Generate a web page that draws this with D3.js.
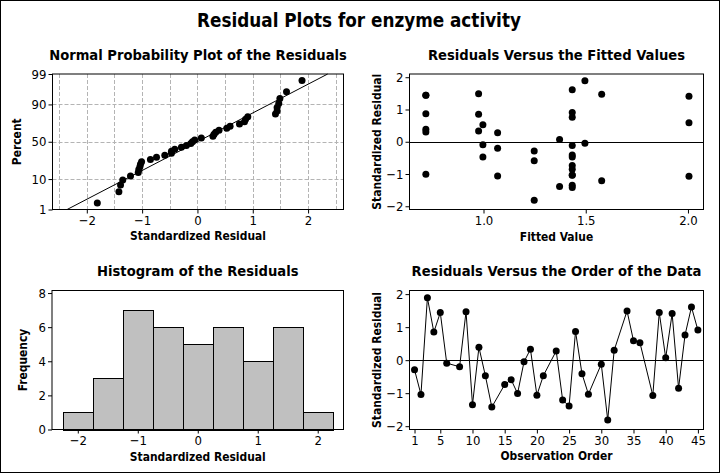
<!DOCTYPE html>
<html><head><meta charset="utf-8">
<script src="https://cdn.jsdelivr.net/npm/d3@7"></script>
<style>
html,body{margin:0;padding:0;background:#fff;}
svg{display:block;}
text{font-family:"DejaVu Sans Condensed","DejaVu Sans",sans-serif;fill:#000;}
</style></head>
<body><svg id="c" width="720" height="473"></svg>
<script>
// ---------- DATA ----------
const observationOrder = [1,2,3,4,5,6,8,9,10,11,12,13,15,16,17,18,19,20,21,23,24,25,26,27,28,30,31,32,34,35,36,38,39,40,41,42,43,44,45];
const standardizedResiduals = [-0.29,-1.04,1.89,0.85,1.44,-0.09,-0.20,1.47,-1.35,0.39,-0.47,-1.42,-0.74,-0.59,-1.01,-0.05,0.33,-1.06,-0.47,0.28,-1.21,-1.39,0.87,-0.41,-1.03,-0.12,-1.81,0.30,1.49,0.59,0.53,-1.07,1.44,0.07,1.41,-0.85,0.76,1.61,0.91];
const fittedValues = [1.248,1.434,1.496,0.976,0.718,0.997,1.069,1.578,1.434,0.718,0.997,1.434,1.434,1.248,0.718,1.496,0.976,1.069,1.434,1.069,1.578,1.372,0.718,1.434,1.434,1.434,1.248,0.718,0.976,2.005,0.997,2.005,0.718,1.372,2.005,1.434,1.434,1.434,1.434];
const percentTicks = [1,10,50,90,99];
const percentGrid = [10,50,90];
const residualTicks = [-2,-1,0,1,2];
const residualGrid = [-2.5,-2,-1.5,-1,-0.5,0,0.5,1,1.5,2,2.5];
const fittedTicks = [1.0,1.5,2.0];
const frequencyTicks = [0,2,4,6,8];
const histogramEdges = [-2.25,-1.75,-1.25,-0.75,-0.25,0.25,0.75,1.25,1.75,2.25];
const orderTicks = [1,5,10,15,20,25,30,35,40,45];

// ---------- helpers ----------
function qnorm(p){
  const a=[-3.969683028665376e+01,2.209460984245205e+02,-2.759285104469687e+02,1.383577518672690e+02,-3.066479806614716e+01,2.506628277459239e+00];
  const b=[-5.447609879822406e+01,1.615858368580409e+02,-1.556989798598866e+02,6.680131188771972e+01,-1.328068155288572e+01];
  const c=[-7.784894002430293e-03,-3.223964580411365e-01,-2.400758277161838e+00,-2.549671397023408e+00,4.374664141464968e+00,2.938163982698783e+00];
  const d=[7.784695709041462e-03,3.224671290700398e-01,2.445134137142996e+00,3.754408661907416e+00];
  const pl=0.02425;
  if(p<pl){const q=Math.sqrt(-2*Math.log(p));return (((((c[0]*q+c[1])*q+c[2])*q+c[3])*q+c[4])*q+c[5])/((((d[0]*q+d[1])*q+d[2])*q+d[3])*q+1);}
  if(p>1-pl){const q=Math.sqrt(-2*Math.log(1-p));return -(((((c[0]*q+c[1])*q+c[2])*q+c[3])*q+c[4])*q+c[5])/((((d[0]*q+d[1])*q+d[2])*q+d[3])*q+1);}
  const q=p-0.5,r=q*q;return (((((a[0]*r+a[1])*r+a[2])*r+a[3])*r+a[4])*r+a[5])*q/(((((b[0]*r+b[1])*r+b[2])*r+b[3])*r+b[4])*r+1);
}

const svg = d3.select("#c");
const W=720,H=473;
svg.append("rect").attr("x",0.5).attr("y",0.5).attr("width",W-1).attr("height",H-1)
  .attr("fill","#fff").attr("stroke","#000");

const TICK_FONT = 13, AXT_FONT = 13, PT_FONT = 14.5, MAIN_FONT = 18;
const R = 3.5;

svg.append("text").attr("class","main").attr("x",359).attr("y",27).attr("text-anchor","middle")
  .style("font-weight","bold").style("font-size",MAIN_FONT+"px").text("Residual Plots for enzyme activity");

function frame(g,f){
  g.append("rect").attr("x",f.x0).attr("y",f.y0).attr("width",f.x1-f.x0).attr("height",f.y1-f.y0)
   .attr("fill","none").attr("stroke","#000").attr("stroke-width",1);
}
function styleAxis(ax){
  ax.select(".domain").remove();
  ax.selectAll(".tick line").attr("stroke","#000");
  ax.selectAll(".tick text").style("font-size",TICK_FONT+"px").attr("fill","#000");
}
function titles(g,f,title,xt,yt,ytx,xty,ty){
  const cx=(f.x0+f.x1)/2, cy=(f.y0+f.y1)/2;
  g.append("text").attr("class","ptitle").attr("x",cx).attr("y",ty).attr("text-anchor","middle")
    .style("font-weight","bold").style("font-size",PT_FONT+"px").text(title);
  g.append("text").attr("class","axt").attr("x",cx).attr("y",xty).attr("text-anchor","middle")
    .style("font-weight","bold").style("font-size",AXT_FONT+"px").text(xt);
  g.append("text").attr("class","axt").attr("transform",`translate(${ytx},${cy}) rotate(-90)`)
    .attr("text-anchor","middle").attr("dy","0.36em")
    .style("font-weight","bold").style("font-size",AXT_FONT+"px").text(yt);
}

const n = standardizedResiduals.length;
const pts = standardizedResiduals.map((r,i)=>({r, f:fittedValues[i], o:observationOrder[i]}));

// ---------- Panel 1: Normal probability ----------
{
  const f={x0:52.5,x1:343.5,y0:74,y1:209.5};
  const g=svg.append("g");
  const x=d3.scaleLinear().domain([-2.62,2.64]).range([f.x0,f.x1]);
  const yz=d3.scaleLinear().domain([qnorm(0.01),qnorm(0.99)]).range([f.y1,f.y0]);
  const gc=g.append("g").attr("stroke","#b4b4b4").attr("stroke-dasharray","4,2").attr("stroke-width",1);
  gc.selectAll("line.v").data(residualGrid).join("line").attr("class","v")
    .attr("x1",d=>Math.round(x(d))+0.5).attr("x2",d=>Math.round(x(d))+0.5).attr("y1",f.y0).attr("y2",f.y1);
  gc.selectAll("line.h").data(percentGrid).join("line").attr("class","h")
    .attr("x1",f.x0).attr("x2",f.x1).attr("y1",d=>Math.round(yz(qnorm(d/100)))+0.5).attr("y2",d=>Math.round(yz(qnorm(d/100)))+0.5);
  const mu=d3.mean(standardizedResiduals), sd=d3.deviation(standardizedResiduals);
  const zr=[qnorm(0.01),qnorm(0.99)];
  g.append("line").attr("x1",x(mu+sd*zr[0])).attr("y1",yz(zr[0])).attr("x2",x(mu+sd*zr[1])).attr("y2",yz(zr[1]))
    .attr("stroke","#000").attr("stroke-width",1);
  const sorted=standardizedResiduals.slice().sort(d3.ascending);
  g.selectAll("circle").data(sorted).join("circle")
    .attr("cx",d=>x(d)).attr("cy",(d,i)=>yz(qnorm((i+1-0.3)/(n+0.4)))).attr("r",R).attr("fill","#000");
  frame(g,f);
  const ax=g.append("g").attr("transform",`translate(0,${f.y1})`).call(d3.axisBottom(x).tickValues(residualTicks).tickSize(4).tickPadding(2).tickFormat(d3.format("d")));
  styleAxis(ax);
  const ay=g.append("g").attr("transform",`translate(${f.x0},0)`).call(d3.axisLeft(yz).tickValues(percentTicks.map(p=>qnorm(p/100))).tickSize(4).tickPadding(2).tickFormat((d,i)=>percentTicks[i]));
  styleAxis(ay);
  titles(g,f,"Normal Probability Plot of the Residuals","Standardized Residual","Percent",17,240,59.5);
}

// ---------- Panel 2: vs fitted ----------
{
  const f={x0:409.5,x1:703.5,y0:74,y1:209.5};
  const g=svg.append("g");
  const x=d3.scaleLinear().domain([0.638,2.076]).range([f.x0,f.x1]);
  const y=d3.scaleLinear().domain([-2.1,2.1]).range([f.y1,f.y0]);
  g.append("line").attr("x1",f.x0).attr("x2",f.x1).attr("y1",Math.round(y(0))+0.5).attr("y2",Math.round(y(0))+0.5).attr("stroke","#000");
  g.selectAll("circle").data(pts).join("circle").attr("cx",d=>x(d.f)).attr("cy",d=>y(d.r)).attr("r",R).attr("fill","#000");
  frame(g,f);
  const ax=g.append("g").attr("transform",`translate(0,${f.y1})`).call(d3.axisBottom(x).tickValues(fittedTicks).tickSize(4).tickPadding(2).tickFormat(d3.format(".1f")));
  styleAxis(ax);
  const ay=g.append("g").attr("transform",`translate(${f.x0},0)`).call(d3.axisLeft(y).tickValues(residualTicks).tickSize(4).tickPadding(2).tickFormat(d3.format("d")));
  styleAxis(ay);
  titles(g,f,"Residuals Versus the Fitted Values","Fitted Value","Standardized Residual",377,241,59.5);
}

// ---------- Panel 3: histogram ----------
{
  const f={x0:52,x1:343.5,y0:290.5,y1:429.5};
  const g=svg.append("g");
  const x=d3.scaleLinear().domain([-2.43,2.43]).range([f.x0,f.x1]);
  const y=d3.scaleLinear().domain([0,8.15]).range([f.y1,f.y0]);
  const bins=d3.bin().domain([histogramEdges[0],histogramEdges[histogramEdges.length-1]]).thresholds(histogramEdges.slice(1,-1))(standardizedResiduals);
  g.selectAll("rect.bar").data(bins).join("rect").attr("class","bar")
    .attr("x",d=>Math.round(x(d.x0))+0.5).attr("width",d=>Math.round(x(d.x1))-Math.round(x(d.x0)))
    .attr("y",d=>Math.round(y(d.length))+0.5).attr("height",d=>Math.round(y(0))-Math.round(y(d.length)))
    .attr("fill","#c0c0c0").attr("stroke","#000").attr("stroke-width",1);
  frame(g,f);
  const ax=g.append("g").attr("transform",`translate(0,${f.y1})`).call(d3.axisBottom(x).tickValues(residualTicks).tickSize(4).tickPadding(2).tickFormat(d3.format("d")));
  styleAxis(ax);
  const ay=g.append("g").attr("transform",`translate(${f.x0},0)`).call(d3.axisLeft(y).tickValues(frequencyTicks).tickSize(4).tickPadding(2));
  styleAxis(ay);
  titles(g,f,"Histogram of the Residuals","Standardized Residual","Frequency",22.5,461,276);
}

// ---------- Panel 4: vs order ----------
{
  const f={x0:409.5,x1:703.5,y0:290.5,y1:429.5};
  const g=svg.append("g");
  const x=d3.scaleLinear().domain([0.22,45.87]).range([f.x0,f.x1]);
  const y=d3.scaleLinear().domain([-2.1,2.11]).range([f.y1,f.y0]);
  g.append("line").attr("x1",f.x0).attr("x2",f.x1).attr("y1",Math.round(y(0))+0.5).attr("y2",Math.round(y(0))+0.5).attr("stroke","#000");
  g.append("path").datum(pts).attr("d",d3.line().x(d=>x(d.o)).y(d=>y(d.r))).attr("fill","none").attr("stroke","#000").attr("stroke-width",1);
  g.selectAll("circle").data(pts).join("circle").attr("cx",d=>x(d.o)).attr("cy",d=>y(d.r)).attr("r",R).attr("fill","#000");
  frame(g,f);
  const ax=g.append("g").attr("transform",`translate(0,${f.y1})`).call(d3.axisBottom(x).tickValues(orderTicks).tickSize(4).tickPadding(2));
  styleAxis(ax);
  const ay=g.append("g").attr("transform",`translate(${f.x0},0)`).call(d3.axisLeft(y).tickValues(residualTicks).tickSize(4).tickPadding(2).tickFormat(d3.format("d")));
  styleAxis(ay);
  titles(g,f,"Residuals Versus the Order of the Data","Observation Order","Standardized Residual",377,460,276);
}

// fit font sizes of each text class so a reference string matches the reference width
function fitClass(sel, refText, target, base){
  let L=null; sel.each(function(){ if(this.textContent===refText) L=this.getComputedTextLength(); });
  if(!L) return;
  const fs = Math.max(base*0.8, Math.min(base*1.15, base*target/L));
  sel.style("font-size", fs+"px");
}
fitClass(svg.selectAll("text.main"),"Residual Plots for enzyme activity",324,MAIN_FONT);
fitClass(svg.selectAll("text.ptitle"),"Normal Probability Plot of the Residuals",298,PT_FONT);
fitClass(svg.selectAll("text.axt"),"Standardized Residual",136,AXT_FONT);
</script></body></html>
